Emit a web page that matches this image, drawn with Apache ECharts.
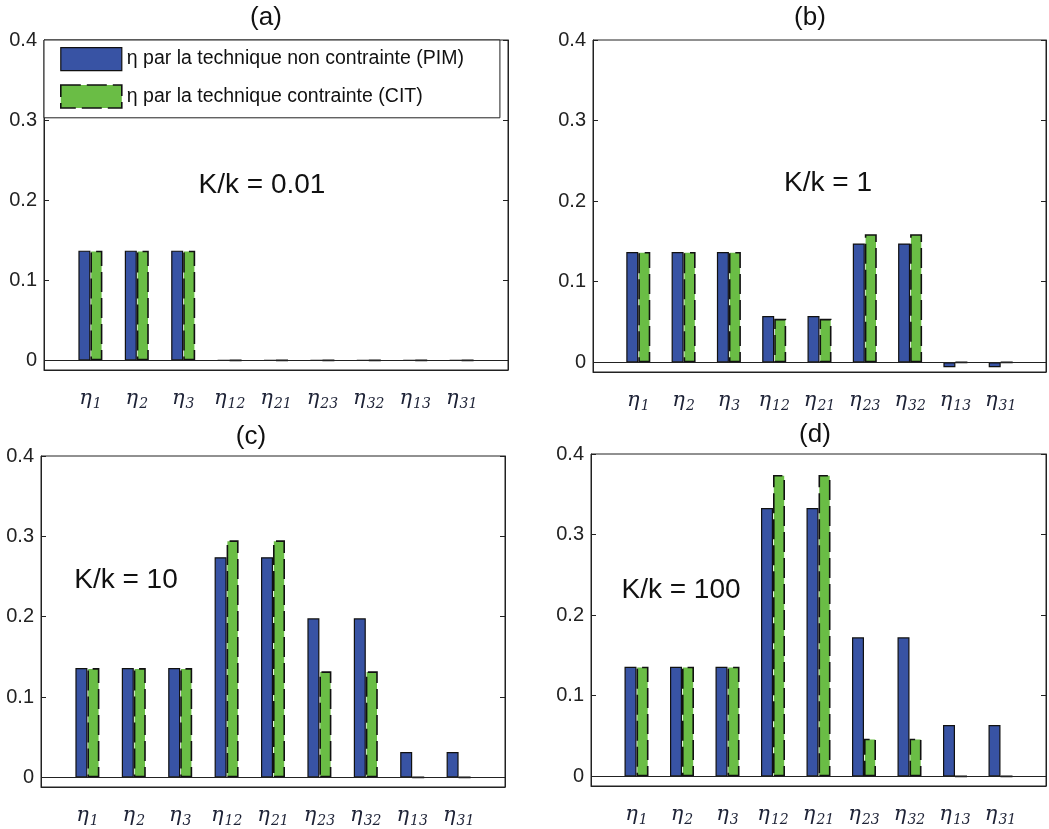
<!DOCTYPE html>
<html><head><meta charset="utf-8">
<script src="https://cdn.jsdelivr.net/npm/echarts@6/dist/echarts.min.js"></script>
<style>html,body{margin:0;padding:0;background:#fff}#c{width:1049px;height:829px}</style>
</head><body><div id="c"></div>
<script>
// subscripts of the η categories
const categories = ['1','2','3','12','21','23','32','13','31'];
const panelTitles = ['(a)','(b)','(c)','(d)'];
const ratioLabels = ['K/k = 0.01','K/k = 1','K/k = 10','K/k = 100'];
const seriesNames = ['η par la technique non contrainte (PIM)','η par la technique contrainte (CIT)'];
const yTicks = [0, 0.1, 0.2, 0.3, 0.4];

const pimA = [0.137,0.137,0.137,0,0,0,0,0,0];
const citA = [0.137,0.137,0.137,0,0,0,0,0,0];
const pimB = [0.137,0.137,0.137,0.0575,0.0575,0.1475,0.1475,-0.006,-0.006];
const citB = [0.137,0.137,0.137,0.054,0.054,0.159,0.159,0,0];
const pimC = [0.136,0.136,0.136,0.274,0.274,0.198,0.198,0.0315,0.0315];
const citC = [0.136,0.136,0.136,0.295,0.295,0.132,0.132,0,0];
const pimD = [0.136,0.136,0.136,0.333,0.333,0.1725,0.1725,0.0636,0.0636];
const citD = [0.136,0.136,0.136,0.374,0.374,0.0467,0.0467,0,0];

const pimAll = [pimA, pimB, pimC, pimD];
const citAll = [citA, citB, citC, citD];

const BLUE = '#3853A4', GREEN = '#6ABD45', INK = '#222';
const SANS = '"Liberation Sans", Arial, sans-serif';

const grids = [
  {left:44, top:40, width:464, height:330},
  {left:593, top:40, width:464, height:332},
  {left:41, top:456, width:464, height:331},
  {left:591, top:454, width:464, height:332}
];
const titlePos = [[266,18],[810,18],[251,437],[815,435]];
const notePos = [[262,185],[828,183],[126,580],[681,590]];

const chart = echarts.init(document.getElementById('c'), null, {renderer:'canvas'});

const xAxes = [], yAxes = [], series = [], graphics = [];
grids.forEach((g, p) => {
  g.show = true; g.borderColor = '#222'; g.borderWidth = 1; g.backgroundColor = '#fff';
  xAxes.push({
    type:'value', gridIndex:p, min:0, max:categories.length+1, interval:1,
    splitLine:{show:false}, axisTick:{show:false},
    axisLine:{show:true, onZero:false, lineStyle:{color:'#222', width:1}},
    axisLabel:{
      margin:16,
      formatter: v => (Number.isInteger(v) && v>=1 && v<=categories.length) ? '{e|η}{s|' + categories[v-1] + '}' : '',
      rich:{
        e:{fontFamily:'"DejaVu Serif", serif', fontStyle:'italic', fontSize:21, color:'#1d2236'},
        s:{fontFamily:'"DejaVu Serif", serif', fontStyle:'italic', fontSize:14, color:'#1d2236', padding:[11,0,0,1]}
      }
    }
  });
  const yBase = {
    type:'value', gridIndex:p, min:-0.012, max:0.4, splitNumber:4,
    splitLine:{show:false},
    axisLine:{show:true, lineStyle:{color:'#222', width:1}},
    axisTick:{show:true, inside:true, length:5, lineStyle:{color:'#222'}}
  };
  yAxes.push(Object.assign({}, yBase, {
    position:'left',
    axisLabel:{
      margin:7, fontFamily:SANS, fontSize:20, color:INK,
      formatter: v => { const t = yTicks.find(t => Math.abs(t - v) < 1e-9); return t === undefined ? '' : String(t); }
    }
  }));
  yAxes.push(Object.assign({}, yBase, {position:'right', axisLabel:{show:false}}));

  series.push({
    type:'bar', name:seriesNames[0], xAxisIndex:p, yAxisIndex:2*p,
    barWidth:12, barGap:'0%',
    itemStyle:{color:BLUE, borderColor:'#111', borderWidth:1.2},
    data: pimAll[p].map((v,i) => [i+1, v]),
    markLine:{
      silent:true, symbol:['none','none'], label:{show:false},
      lineStyle:{color:'#222', type:'solid', width:1},
      data:[{yAxis:0}]
    },
    z:2
  });
  series.push({
    type:'bar', name:seriesNames[1], xAxisIndex:p, yAxisIndex:2*p,
    barWidth:12, barGap:'0%',
    itemStyle:{color:GREEN, borderColor:'#111', borderWidth:1.6, borderType:[20,6]},
    data: citAll[p].map((v,i) => [i+1, v]),
    z:3
  });

  graphics.push({type:'text', x:titlePos[p][0], y:titlePos[p][1], z:100,
    style:{text:panelTitles[p], font:'26px ' + SANS, fill:'#111', textAlign:'center', textVerticalAlign:'middle'}});
  graphics.push({type:'text', x:notePos[p][0], y:notePos[p][1], z:100,
    style:{text:ratioLabels[p], font:'28px ' + SANS, fill:'#111', textAlign:'center', textVerticalAlign:'middle'}});
});

chart.setOption({
  backgroundColor:'#fff',
  animation:false,
  grid:grids,
  xAxis:xAxes,
  yAxis:yAxes,
  series:series,
  graphic:graphics,
  legend:{
    data:[
      {name:seriesNames[0], icon:'rect', itemStyle:{color:BLUE, borderColor:'#111', borderWidth:1.2}},
      {name:seriesNames[1], icon:'rect', itemStyle:{color:GREEN, borderColor:'#111', borderWidth:1.6, borderType:[20,6]}}
    ],
    orient:'vertical', left:44, top:40,
    padding:[7,36,9,16], itemWidth:61, itemHeight:23, itemGap:13,
    borderColor:'#222', borderWidth:1, backgroundColor:'#fff',
    selectedMode:false,
    textStyle:{fontFamily:SANS, fontSize:19.5, color:'#111'},
    z:50
  }
});
</script>
</body></html>
